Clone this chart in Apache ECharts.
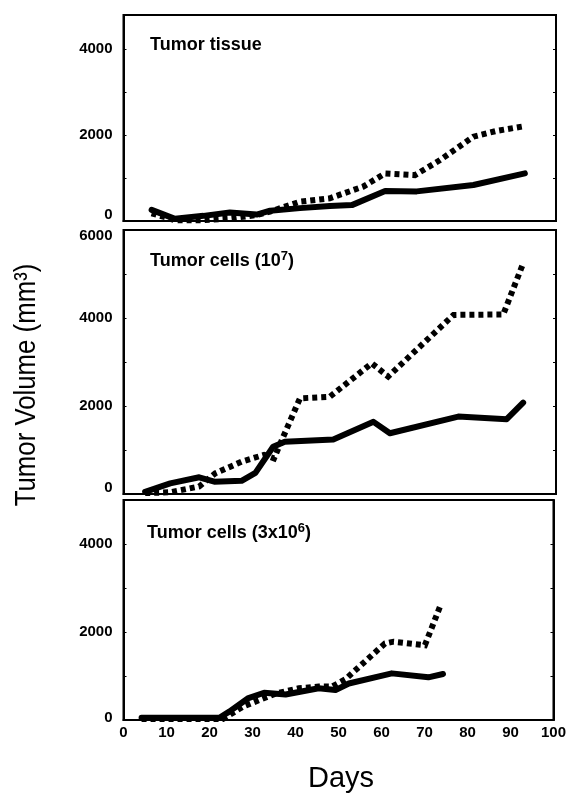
<!DOCTYPE html>
<html>
<head>
<meta charset="utf-8">
<script src="https://cdn.jsdelivr.net/npm/echarts@6/dist/echarts.min.js"></script>
<style>
  html, body { margin: 0; padding: 0; background: #fff; }
  #chart { width: 569px; height: 796px; }
</style>
</head>
<body>
<div id="chart"></div>
<script>
// Days after implantation and tumor volume (mm3) for each panel
const tissueSolidDays = [6.5, 11.9, 18.5, 24.6, 30.8, 33.9, 40.8, 47.7, 52.8, 60.5, 67.8, 80.9, 92.8];
const tissueSolidVals = [260, 50, 120, 200, 150, 240, 300, 350, 370, 700, 690, 840, 1110];
const tissueDotDays = [6.5, 11.9, 18.5, 24.6, 30.8, 33.9, 40.8, 47.7, 55.4, 60.5, 67.4, 73.2, 80.9, 86.3, 92.1];
const tissueDotVals = [180, 20, 20, 60, 140, 220, 450, 530, 800, 1110, 1070, 1420, 1965, 2100, 2200];

const cells7SolidDays = [5, 10.8, 17.5, 21, 27.3, 30.5, 34.6, 37.3, 48.5, 57.8, 61.6, 77.4, 88.6, 92.4];
const cells7SolidVals = [50, 240, 380, 280, 300, 480, 1075, 1190, 1240, 1640, 1380, 1760, 1700, 2075];
const cells7DotDays = [5, 10.8, 17.5, 21.2, 27.3, 32.5, 34.8, 36.5, 40.8, 47.7, 57.4, 61.2, 76.3, 87.8, 92.4];
const cells7DotVals = [20, 40, 170, 470, 735, 890, 810, 1200, 2175, 2210, 2970, 2670, 4070, 4080, 5240];

const cells6SolidDays = [4.2, 22.3, 24.6, 28.9, 32.7, 37.7, 45.4, 49.3, 52.4, 62.4, 70.9, 74.3];
const cells6SolidVals = [50, 50, 190, 490, 620, 580, 720, 680, 830, 1060, 970, 1045];
const cells6DotDays = [4.2, 23.1, 27.7, 31.6, 35.4, 40.8, 45.4, 48.5, 51.6, 60.8, 62.8, 70.1, 73.6];
const cells6DotVals = [20, 20, 300, 455, 600, 720, 760, 760, 925, 1740, 1780, 1700, 2575];

// Axis ticks
const dayTicks = [0, 10, 20, 30, 40, 50, 60, 70, 80, 90, 100];
const tissueLabels = [0, 2000, 4000];
const cells7Labels = [0, 2000, 4000, 6000];
const cells6Labels = [0, 2000, 4000];
const tissueMinor = [1000, 2000, 3000, 4000];
const cells7Minor = [1000, 2000, 3000, 4000, 5000];
const cells6Minor = [1000, 2000, 3000, 4000];

const FONT = '"Liberation Sans", Arial, Helvetica, sans-serif';

function pairs(xs, ys) { return xs.map((x, i) => [x, ys[i]]); }
const plain = v => String(v);

const labelFont = { color: '#000', fontFamily: FONT, fontWeight: 'bold', fontSize: 15 };
// Zero labels sit a little above the baseline, the top label of the
// middle panel a little below the frame, so neighbouring panels don't collide.
function yLabel(max) {
  return v => {
    if (v === 0) return '{up|0}';
    if (v === max) return '{down|' + v + '}';
    return String(v);
  };
}

const panels = [
  { top: 15, height: 206, max: 4800, labels: tissueLabels, minor: tissueMinor,
    solid: pairs(tissueSolidDays, tissueSolidVals), dot: pairs(tissueDotDays, tissueDotVals) },
  { top: 230, height: 264, max: 6000, labels: cells7Labels, minor: cells7Minor,
    solid: pairs(cells7SolidDays, cells7SolidVals), dot: pairs(cells7DotDays, cells7DotVals) },
  { top: 500, height: 220, max: 5000, labels: cells6Labels, minor: cells6Minor,
    solid: pairs(cells6SolidDays, cells6SolidVals), dot: pairs(cells6DotDays, cells6DotVals) }
];

const grid = [], xAxis = [], yAxis = [], series = [];
panels.forEach((p, i) => {
  grid.push({ left: 123.5, right: 13, top: p.top, height: p.height,
    show: true, borderColor: '#000', borderWidth: 2, backgroundColor: '#fff' });
  xAxis.push({
    type: 'value', gridIndex: i, min: 0, max: 100,
    axisLine: { show: true, lineStyle: { color: '#000', width: 2 } },
    axisTick: { show: false },
    splitLine: { show: false },
    axisLabel: Object.assign({
      show: i === 2, customValues: dayTicks, margin: 5, formatter: plain
    }, labelFont)
  });
  yAxis.push({
    type: 'value', gridIndex: i, min: 0, max: p.max, position: 'left',
    axisLine: { show: true, lineStyle: { color: '#000', width: 2 } },
    axisTick: { show: true, inside: true, length: 3, customValues: p.minor, lineStyle: { color: '#000', width: 1 } },
    splitLine: { show: false },
    axisLabel: Object.assign({
      customValues: p.labels, margin: 11, formatter: yLabel(p.max),
      rich: {
        up: Object.assign({ padding: [0, 0, i === 2 ? 4 : 12, 0] }, labelFont),
        down: Object.assign({ padding: [12, 0, 0, 0] }, labelFont)
      }
    }, labelFont)
  });
  yAxis.push({
    type: 'value', gridIndex: i, min: 0, max: p.max, position: 'right',
    axisLine: { show: true, lineStyle: { color: '#000', width: 2 } },
    axisTick: { show: true, inside: true, length: 3, customValues: p.minor, lineStyle: { color: '#000', width: 1 } },
    splitLine: { show: false },
    axisLabel: { show: false }
  });
  series.push({
    type: 'line', xAxisIndex: i, yAxisIndex: i * 2, data: p.dot,
    showSymbol: false, symbol: 'none', silent: true, z: 2,
    lineStyle: { color: '#000', width: 6, type: [5, 4], cap: 'butt', join: 'miter' }
  });
  series.push({
    type: 'line', xAxisIndex: i, yAxisIndex: i * 2, data: p.solid,
    showSymbol: false, symbol: 'none', silent: true, z: 3,
    lineStyle: { color: '#000', width: 6, type: 'solid', join: 'round', cap: 'round' }
  });
});

const titleStyle = { color: '#000', fontFamily: FONT, fontWeight: 'bold', fontSize: 18,
  rich: {
    a: { color: '#000', fontFamily: FONT, fontWeight: 'bold', fontSize: 18 },
    s: { color: '#000', fontFamily: FONT, fontWeight: 'bold', fontSize: 13, padding: [0, 0, 10, 0] }
  } };

const option = {
  animation: false,
  backgroundColor: '#fff',
  title: [
    { text: 'Tumor tissue', left: 150, top: 36, padding: 0, textStyle: titleStyle },
    { text: '{a|Tumor cells (10}{s|7}{a|)}', left: 150, top: 250, padding: 0, textStyle: titleStyle },
    { text: '{a|Tumor cells (3x10}{s|6}{a|)}', left: 147, top: 522, padding: 0, textStyle: titleStyle }
  ],
  grid, xAxis, yAxis, series,
  graphic: [
    { type: 'text', x: 27, y: 385, rotation: Math.PI / 2, scaleX: 0.86,
      style: { text: 'Tumor Volume (mm³)', font: '30px ' + FONT, fill: '#000',
        textAlign: 'center', textVerticalAlign: 'middle' } },
    { type: 'text', x: 341, y: 779,
      style: { text: 'Days', font: '29px ' + FONT, fill: '#000',
        textAlign: 'center', textVerticalAlign: 'middle' } }
  ]
};

echarts.init(document.getElementById('chart'), null, { renderer: 'canvas' }).setOption(option);
</script>
</body>
</html>
